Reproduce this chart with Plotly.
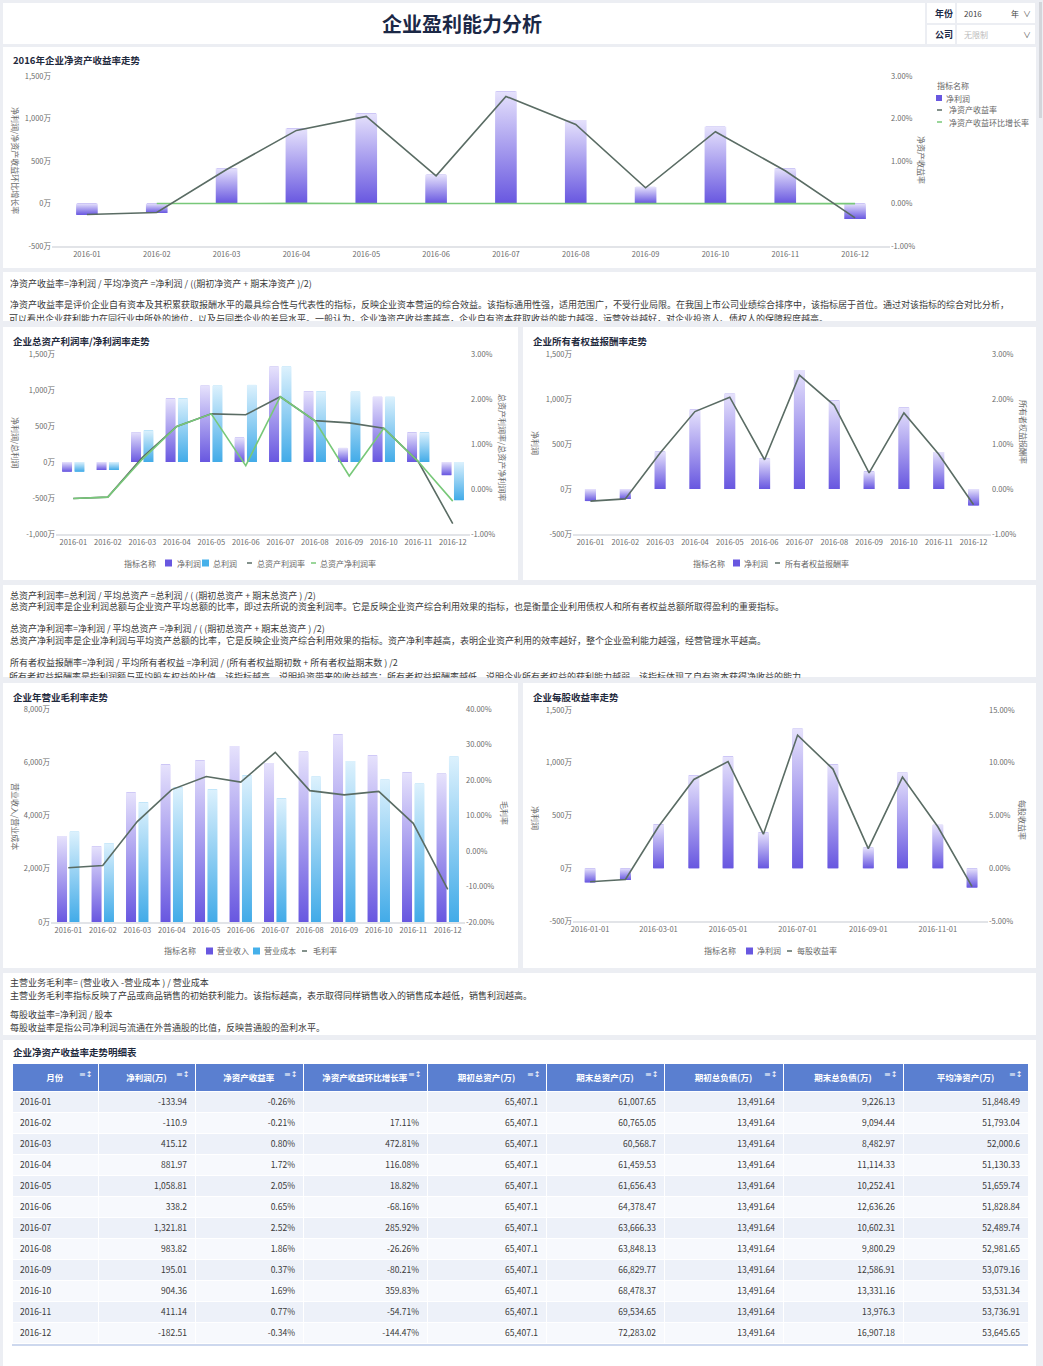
import plotly.graph_objects as go
import pandas as pd

# ---------------- data ----------------
months = ["2016-01", "2016-02", "2016-03", "2016-04", "2016-05", "2016-06",
          "2016-07", "2016-08", "2016-09", "2016-10", "2016-11", "2016-12"]
month_starts = ["2016-01-01", "2016-02-01", "2016-03-01", "2016-04-01", "2016-05-01", "2016-06-01",
                "2016-07-01", "2016-08-01", "2016-09-01", "2016-10-01", "2016-11-01", "2016-12-01"]

net_profit = [-133.94, -110.9, 415.12, 881.97, 1058.81, 338.2, 1321.81, 983.82, 195.01, 904.36, 411.14, -182.51]
roe = [-0.26, -0.21, 0.80, 1.72, 2.05, 0.65, 2.52, 1.86, 0.37, 1.69, 0.77, -0.34]
roe_growth = [None, 17.11, 472.81, 116.08, 18.82, -68.16, 285.92, -26.26, -80.21, 359.83, -54.71, -144.47]
begin_assets = [65407.1, 65407.1, 65407.1, 65407.1, 65407.1, 65407.1, 65407.1, 65407.1, 65407.1, 65407.1, 65407.1, 65407.1]
end_assets = [61007.65, 60765.05, 60568.7, 61459.53, 61656.43, 64378.47, 63666.33, 63848.13, 66829.77, 68478.37, 69534.65, 72283.02]
begin_liab = [13491.64, 13491.64, 13491.64, 13491.64, 13491.64, 13491.64, 13491.64, 13491.64, 13491.64, 13491.64, 13491.64, 13491.64]
end_liab = [9226.13, 9094.44, 8482.97, 11114.33, 10252.41, 12636.26, 10602.31, 9800.29, 12586.91, 13331.16, 13976.3, 16907.18]
avg_net_assets = [51848.49, 51793.04, 52000.6, 51130.33, 51659.74, 51828.84, 52489.74, 52981.65, 53079.16, 53531.34, 53736.91, 53645.65]

total_profit = [-133.94, -110.9, 440, 881.97, 1058.81, 1070, 1321.81, 983.82, 975, 904.36, 411.14, -530]
roa_total = [-0.21, -0.18, 0.70, 1.39, 1.67, 1.65, 2.05, 1.52, 1.47, 1.35, 0.61, -0.77]
roa_net = [-0.21, -0.18, 0.66, 1.39, 1.67, 0.52, 2.05, 1.52, 0.29, 1.35, 0.61, -0.27]
owner_return = [-0.27, -0.22, 0.80, 1.72, 2.04, 0.65, 2.53, 1.86, 0.36, 1.69, 0.77, -0.35]

revenue = [3228, 2848, 4873, 5911, 6076, 6608, 5975, 6392, 7051, 6266, 5620, 5570]
cost = [3392, 2962, 4494, 5051, 4987, 5507, 4646, 5456, 6051, 5342, 5190, 6203]
gross_margin = [-4.7, -4.1, 8.3, 17.3, 21.0, 19.4, 27.8, 17.0, 15.8, 16.8, 7.8, -10.8]
eps_rate = [-1.28, -1.06, 3.96, 8.42, 10.11, 3.23, 12.62, 9.40, 1.86, 8.64, 3.93, -1.74]

# tick labels
wan_ticks_a = [-500, 0, 500, 1000, 1500]
wan_labels_a = ["-500万", "0万", "500万", "1,000万", "1,500万"]
wan_ticks_b = [-1000, -500, 0, 500, 1000, 1500]
wan_labels_b = ["-1,000万", "-500万", "0万", "500万", "1,000万", "1,500万"]
wan_ticks_c = [0, 2000, 4000, 6000, 8000]
wan_labels_c = ["0万", "2,000万", "4,000万", "6,000万", "8,000万"]
pct_ticks_a = [-1, 0, 1, 2, 3]
pct_labels_a = ["-1.00%", "0.00%", "1.00%", "2.00%", "3.00%"]
pct_ticks_c = [-20, -10, 0, 10, 20, 30, 40]
pct_labels_c = ["-20.00%", "-10.00%", "0.00%", "10.00%", "20.00%", "30.00%", "40.00%"]
pct_ticks_d = [-5, 0, 5, 10, 15]
pct_labels_d = ["-5.00%", "0.00%", "5.00%", "10.00%", "15.00%"]

table_headers = ["月份", "净利润(万)", "净资产收益率", "净资产收益环比增长率", "期初总资产(万)",
                 "期末总资产(万)", "期初总负债(万)", "期末总负债(万)", "平均净资产(万)"]

# ---------------- style ----------------
W, H = 1043, 1366
FONT = "Noto Sans CJK SC, Noto Sans, sans-serif"
PAGE = "#eceef3"
DARK = "#5a6c64"
GREEN = "#78c879"
PURPLE_SOLID = "#6857e0"
BLUE_SOLID = "#45b0ea"
PURPLE = [[0, "#6857e0"], [1, "#e6e2fc"]]
BLUE = [[0, "#42abe8"], [1, "#dcf1fd"]]
TICK = dict(size=7.5, color="#6b6b6b", family=FONT)
LEG_C = "#666666"


def px(x):
    return x / W


def py(y):
    return 1 - y / H


fig = go.Figure()


def add_bars(xs, vals, halfw, offset, scale, solid, name, xa, ya):
    # solid bar underneath, covered by the gradient body
    fig.add_trace(go.Bar(x=xs, y=vals, width=[2 * halfw * 0.9] * len(xs),
                         offset=[offset - halfw * 0.9] * len(xs),
                         marker=dict(color=solid, line=dict(width=0)), name=name,
                         xaxis=xa, yaxis=ya, hoverinfo="skip"))
    for xc, v in zip(xs, vals):
        x0 = xc + offset - halfw
        x1 = xc + offset + halfw
        fig.add_trace(go.Scatter(
            x=[x0, x1, x1, x0, x0], y=[0, 0, v, v, 0], mode="none", fill="toself",
            fillcolor=solid, fillgradient=dict(type="vertical", colorscale=scale),
            name=name, xaxis=xa, yaxis=ya, hoverinfo="skip"))


def add_line(xs, vals, color, name, xa, ya):
    fig.add_trace(go.Scatter(x=xs, y=vals, mode="lines", line=dict(color=color, width=1.6),
                             name=name, xaxis=xa, yaxis=ya, hoverinfo="skip"))


idx = list(range(len(months)))
dates = [pd.Timestamp(d) for d in month_starts]

# chart 1
add_bars(idx, net_profit, 0.155, 0, PURPLE, PURPLE_SOLID, "净利润", "x", "y")
add_line(idx, [None if g is None else g / 100 for g in roe_growth], GREEN, "净资产收益环比增长率", "x", "y")
add_line(idx, roe, DARK, "净资产收益率", "x", "y2")

# chart 2
add_bars(idx, net_profit, 0.145, -0.18, PURPLE, PURPLE_SOLID, "净利润", "x2", "y3")
add_bars(idx, total_profit, 0.145, 0.18, BLUE, BLUE_SOLID, "总利润", "x2", "y3")
add_line(idx, roa_total, DARK, "总资产利润率", "x2", "y4")
add_line(idx, roa_net, GREEN, "总资产净利润率", "x2", "y4")

# chart 3
add_bars(idx, net_profit, 0.16, 0, PURPLE, PURPLE_SOLID, "净利润", "x3", "y5")
add_line(idx, owner_return, DARK, "所有者权益报酬率", "x3", "y6")

# chart 4
add_bars(idx, revenue, 0.145, -0.18, PURPLE, PURPLE_SOLID, "营业收入", "x4", "y7")
add_bars(idx, cost, 0.145, 0.18, BLUE, BLUE_SOLID, "营业成本", "x4", "y7")
add_line(idx, gross_margin, DARK, "毛利率", "x4", "y8")

# chart 5 (date axis)
half_ms = 116 * 3600 * 1000
fig.add_trace(go.Bar(x=dates, y=net_profit, width=[2 * half_ms * 0.9] * 12,
                     marker=dict(color=PURPLE_SOLID, line=dict(width=0)), name="净利润",
                     xaxis="x5", yaxis="y9", hoverinfo="skip"))
for xc, v in zip(dates, net_profit):
    x0 = xc - pd.Timedelta(milliseconds=half_ms)
    x1 = xc + pd.Timedelta(milliseconds=half_ms)
    fig.add_trace(go.Scatter(
        x=[x0, x1, x1, x0, x0], y=[0, 0, v, v, 0], mode="none", fill="toself",
        fillcolor=PURPLE_SOLID, fillgradient=dict(type="vertical", colorscale=PURPLE),
        name="净利润", xaxis="x5", yaxis="y9", hoverinfo="skip"))
add_line(dates, eps_rate, DARK, "每股收益率", "x5", "y10")

# table
row_fill = ["#edf1f9" if i % 2 == 0 else "#f7f9fd" for i in range(len(months))]


def fmt_num(v):
    return f"{v:,}"


cells = [
    months,
    [fmt_num(v) for v in net_profit],
    [f"{v:.2f}%" for v in roe],
    ["" if v is None else f"{v:.2f}%" for v in roe_growth],
    [fmt_num(v) for v in begin_assets],
    [fmt_num(v) for v in end_assets],
    [fmt_num(v) for v in begin_liab],
    [fmt_num(v) for v in end_liab],
    [fmt_num(v) for v in avg_net_assets],
]
col_edges = [12, 98, 195, 303, 427, 546, 664, 783, 903, 1028]
col_w = [col_edges[i + 1] - col_edges[i] for i in range(len(col_edges) - 1)]
fig.add_trace(go.Table(
    domain=dict(x=[px(12), px(1028)], y=[py(1345), py(1063)]),
    columnwidth=col_w,
    header=dict(values=[f"<b>{h}</b>" for h in table_headers], fill_color="#5a7fd0",
                font=dict(color="white", size=8.5, family=FONT), height=21, align="center",
                line=dict(color="#ffffff", width=1)),
    cells=dict(values=cells, fill_color=[row_fill] * len(cells), height=21,
               align=["left"] + ["right"] * 8,
               font=dict(color="#3a3a3a", size=8.5, family=FONT),
               line=dict(color="#ffffff", width=1)),
))

# ---------------- axes ----------------
def xcat(d0, d1, anchor):
    return dict(domain=[px(d0), px(d1)], anchor=anchor, range=[-0.5, 11.5], tickvals=idx, ticktext=months,
                showline=True, linecolor="#e2e4e8", linewidth=2, showgrid=False, zeroline=False,
                ticks="", tickfont=TICK, fixedrange=True, automargin=False)


def yleft(top, bottom, anchor, rng, tv, tt):
    return dict(domain=[py(bottom), py(top)], anchor=anchor, range=rng, tickvals=tv, ticktext=tt,
                showgrid=False, zeroline=False, showline=False, ticks="", tickfont=TICK, fixedrange=True,
                automargin=False)


def yright(over, anchor, rng, tv, tt):
    return dict(overlaying=over, side="right", anchor=anchor, range=rng, tickvals=tv, ticktext=tt,
                showgrid=False, zeroline=False, showline=False, ticks="", tickfont=TICK, fixedrange=True,
                automargin=False)


fig.update_layout(
    width=W, height=H, autosize=False,
    margin=dict(l=0, r=0, t=0, b=0, pad=0, autoexpand=False),
    paper_bgcolor=PAGE, plot_bgcolor="rgba(0,0,0,0)", showlegend=False,
    font=dict(family=FONT), hovermode=False, barmode="overlay",
    xaxis=xcat(52, 890, "y"),
    yaxis=yleft(76, 246, "x", [-500, 1500], wan_ticks_a, wan_labels_a),
    yaxis2=yright("y", "x", [-1, 3], pct_ticks_a, pct_labels_a),
    xaxis2=xcat(56, 470, "y3"),
    yaxis3=yleft(354, 534, "x2", [-1000, 1500], wan_ticks_b, wan_labels_b),
    yaxis4=yright("y3", "x2", [-1, 3], pct_ticks_a, pct_labels_a),
    xaxis3=xcat(573, 991, "y5"),
    yaxis5=yleft(354, 534, "x3", [-500, 1500], wan_ticks_a, wan_labels_a),
    yaxis6=yright("y5", "x3", [-1, 3], pct_ticks_a, pct_labels_a),
    xaxis4=xcat(51, 465, "y7"),
    yaxis7=yleft(709, 922, "x4", [0, 8000], wan_ticks_c, wan_labels_c),
    yaxis8=yright("y7", "x4", [-20, 40], pct_ticks_c, pct_labels_c),
    xaxis5=dict(domain=[px(573), px(988)], anchor="y9", type="date", range=["2015-12-17", "2016-12-15"],
                tick0="2016-01-01", dtick="M2", tickformat="%Y-%m-%d",
                showline=True, linecolor="#e2e4e8", linewidth=2, showgrid=False, zeroline=False,
                ticks="", tickfont=TICK, fixedrange=True, automargin=False),
    yaxis9=yleft(710, 921, "x5", [-500, 1500], wan_ticks_a, wan_labels_a),
    yaxis10=yright("y9", "x5", [-5, 15], pct_ticks_d, pct_labels_d),
)

# ---------------- panels ----------------
def rect(x0, y0, x1, y1, fill, line=None, layer="below"):
    fig.add_shape(type="rect", xref="paper", yref="paper", x0=px(x0), x1=px(x1), y0=py(y1), y1=py(y0),
                  fillcolor=fill, line=dict(width=0) if line is None else dict(color=line, width=1),
                  layer=layer)


rect(3, 3, 925, 44, "white")
rect(927, 3, 955, 23, "white")
rect(957, 3, 1035, 23, "white")
rect(927, 25, 955, 44, "white")
rect(957, 25, 1035, 44, "white")
rect(3, 47, 1036, 268, "white")
rect(3, 272, 1036, 321, "white")
rect(3, 327, 518, 580, "white")
rect(523, 327, 1036, 580, "white")
rect(3, 585, 1036, 677, "white")
rect(3, 683, 518, 968, "white")
rect(523, 683, 1036, 968, "white")
rect(3, 973, 1036, 1035, "white")
rect(3, 1040, 1036, 1366, "white")
rect(12, 1341, 1028, 1346, "#cdd8ee")
rect(1039, 2, 1042, 118, "#d3d5da")


def text(x, y, s, size=9, color="#333333", xanchor="left", angle=0, family=FONT):
    fig.add_annotation(x=px(x), y=py(y), xref="paper", yref="paper", text=s, showarrow=False,
                       xanchor=xanchor, yanchor="middle", textangle=angle,
                       font=dict(size=size, color=color, family=family))


def clipped_text(x, ytop, s, box_h, size=9, color="#333333"):
    fig.add_annotation(x=px(x), y=py(ytop), xref="paper", yref="paper", text=s, showarrow=False,
                       xanchor="left", yanchor="top", height=box_h, valign="top", borderpad=0,
                       font=dict(size=size, color=color, family=FONT))


# legends (drawn as keys + labels)
def key_square(x0, yc, color, size=7):
    rect(x0, yc - size / 2, x0 + size, yc + size / 2, color, layer="above")


def key_dash(x0, yc, color, length=5):
    fig.add_shape(type="line", xref="paper", yref="paper", x0=px(x0), x1=px(x0 + length),
                  y0=py(yc), y1=py(yc), line=dict(color=color, width=1.5), layer="above")


def leg_text(x, y, s):
    text(x, y, s, size=8, color=LEG_C)


# chart 1 legend (vertical)
leg_text(935, 85, "指标名称")
key_square(936, 98, PURPLE_SOLID, 6)
leg_text(944, 98, "净利润")
key_dash(937, 110, DARK)
leg_text(947, 110, "净资产收益率")
key_dash(937, 122, GREEN)
leg_text(947, 122, "净资产收益环比增长率")

# chart 2 legend
leg_text(122, 563, "指标名称")
key_square(165, 563, PURPLE_SOLID)
leg_text(175, 563, "净利润")
key_square(202, 563, BLUE_SOLID)
leg_text(211, 563, "总利润")
key_dash(247, 563, DARK)
leg_text(255, 563, "总资产利润率")
key_dash(311, 563, GREEN)
leg_text(318, 563, "总资产净利润率")

# chart 3 legend
leg_text(691, 563, "指标名称")
key_square(733, 563, PURPLE_SOLID)
leg_text(742, 563, "净利润")
key_dash(775, 563, DARK)
leg_text(783, 563, "所有者权益报酬率")

# chart 4 legend
leg_text(162, 951, "指标名称")
key_square(206, 951, PURPLE_SOLID)
leg_text(215, 951, "营业收入")
key_square(253, 951, BLUE_SOLID)
leg_text(262, 951, "营业成本")
key_dash(302, 951, DARK)
leg_text(311, 951, "毛利率")

# chart 5 legend
leg_text(702, 951, "指标名称")
key_square(746, 951, PURPLE_SOLID)
leg_text(755, 951, "净利润")
key_dash(787, 951, DARK)
leg_text(795, 951, "每股收益率")

# header
text(462, 23, "<b>企业盈利能力分析</b>", size=20, color="#1b2846", xanchor="center")
text(933, 13, "<b>年份</b>", size=9, color="#1b2846")
text(962, 13, "2016", size=8, color="#444444")
text(1009, 13, "年", size=8, color="#444444")
text(1021, 13, "∨", size=8, color="#666666")
text(933, 35, "<b>公司</b>", size=9, color="#1b2846")
text(962, 35, "无限制", size=8, color="#bbbbbb")
text(1021, 35, "∨", size=8, color="#666666")

# panel titles
TITLE_C = "#1f2a3d"
text(11, 60, "<b>2016年企业净资产收益率走势</b>", size=9.5, color=TITLE_C)
text(11, 341, "<b>企业总资产利润率/净利润率走势</b>", size=9.5, color=TITLE_C)
text(531, 341, "<b>企业所有者权益报酬率走势</b>", size=9.5, color=TITLE_C)
text(11, 697, "<b>企业年营业毛利率走势</b>", size=9.5, color=TITLE_C)
text(531, 697, "<b>企业每股收益率走势</b>", size=9.5, color=TITLE_C)
text(11, 1052, "<b>企业净资产收益率走势明细表</b>", size=9.5, color=TITLE_C)

# axis titles
AX_C = "#6b6b6b"
text(16, 160, "净利润/净资产收益环比增长率", size=8, color=AX_C, xanchor="center", angle=90)
text(922, 160, "净资产收益率", size=8, color=AX_C, xanchor="center", angle=90)
text(16, 442, "净利润/总利润", size=8, color=AX_C, xanchor="center", angle=90)
text(503, 447, "总资产利润率/总资产净利润率", size=8, color=AX_C, xanchor="center", angle=90)
text(536, 443, "净利润", size=8, color=AX_C, xanchor="center", angle=90)
text(1024, 432, "所有者权益报酬率", size=8, color=AX_C, xanchor="center", angle=90)
text(16, 816, "营业收入/营业成本", size=8, color=AX_C, xanchor="center", angle=90)
text(505, 813, "毛利率", size=8, color=AX_C, xanchor="center", angle=90)
text(536, 818, "净利润", size=8, color=AX_C, xanchor="center", angle=90)
text(1023, 820, "每股收益率", size=8, color=AX_C, xanchor="center", angle=90)

# description texts
TX = "#3a3a3a"
text(8, 283, "净资产收益率=净利润 / 平均净资产 =净利润 / ((期初净资产 + 期末净资产 )/2)", color=TX)
text(8, 305, "净资产收益率是评价企业自有资本及其积累获取报酬水平的最具综合性与代表性的指标，反映企业资本营运的综合效益。该指标通用性强，适用范围广，不受行业局限。在我国上市公司业绩综合排序中，该指标居于首位。通过对该指标的综合对比分析，", color=TX)
clipped_text(8, 311, "可以看出企业获利能力在同行业中所处的地位，以及与同类企业的差异水平。一般认为，企业净资产收益率越高，企业自有资本获取收益的能力越强，运营效益越好，对企业投资人、债权人的保障程度越高。", 9, color=TX)

text(8, 595, "总资产利润率=总利润 / 平均总资产 =总利润 / ( (期初总资产 + 期末总资产 ) /2)", color=TX)
text(8, 606, "总资产利润率是企业利润总额与企业资产平均总额的比率，即过去所说的资金利润率。它是反映企业资产综合利用效果的指标，也是衡量企业利用债权人和所有者权益总额所取得盈利的重要指标。", color=TX)
text(8, 628, "总资产净利润率=净利润 / 平均总资产 =净利润 / ( (期初总资产 + 期末总资产 ) /2)", color=TX)
text(8, 640, "总资产净利润率是企业净利润与平均资产总额的比率，它是反映企业资产综合利用效果的指标。资产净利率越高，表明企业资产利用的效率越好，整个企业盈利能力越强，经营管理水平越高。", color=TX)
text(8, 662, "所有者权益报酬率=净利润 / 平均所有者权益 =净利润 / (所有者权益期初数 + 所有者权益期末数 ) /2", color=TX)
clipped_text(8, 669, "所有者权益报酬率是指利润额与平均股东权益的比值，该指标越高，说明投资带来的收益越高；所有者权益报酬率越低，说明企业所有者权益的获利能力越弱。该指标体现了自有资本获得净收益的能力。", 8, color=TX)

text(8, 983, "主营业务毛利率= (营业收入 -营业成本 ) / 营业成本", color=TX)
text(8, 995, "主营业务毛利率指标反映了产品或商品销售的初始获利能力。该指标越高，表示取得同样销售收入的销售成本越低，销售利润越高。", color=TX)
text(8, 1015, "每股收益率=净利润 / 股本", color=TX)
text(8, 1027, "每股收益率是指公司净利润与流通在外普通股的比值，反映普通股的盈利水平。", color=TX)

# table header sort icons
for e in col_edges[1:]:
    text(e - 4, 1074, "≡↕", size=8, color="#ffffff", xanchor="right", family="DejaVu Sans")

POST = ("var h=document.documentElement.style;h.margin='0';h.padding='0';h.overflow='hidden';"
        "var b=document.body.style;b.margin='0';b.padding='0';b.overflow='hidden';b.background='" + PAGE + "';")
fig.write_html("out.html", config={"displayModeBar": False, "responsive": False}, post_script=POST)
